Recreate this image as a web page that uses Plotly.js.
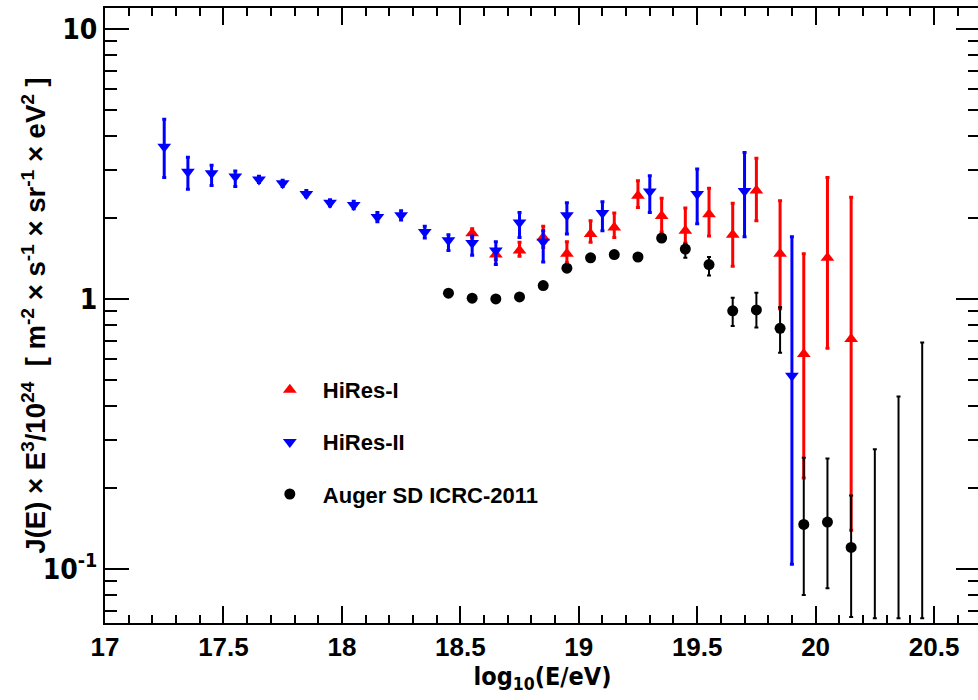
<!DOCTYPE html>
<html>
<head>
<meta charset="utf-8">
<script src="https://cdn.plot.ly/plotly-3.0.1.min.js"></script>
<style>
  html, body { margin: 0; padding: 0; overflow: hidden; background: #fff; }
  #chart { width: 982px; height: 700px; }
</style>
</head>
<body>
<div id="chart"></div>
<script>
// HiRes-I monocular spectrum: log10(E/eV), flux, upper and lower error ends
const hires1X  = [18.55, 18.65, 18.75, 18.85, 18.95, 19.05, 19.15, 19.25, 19.35, 19.45, 19.55, 19.65, 19.75, 19.85, 19.95, 20.05, 20.15];
const hires1Y  = [1.75, 1.46, 1.51, 1.69, 1.47, 1.74, 1.84, 2.41, 2.03, 1.79, 2.06, 1.73, 2.52, 1.47, 0.625, 1.42, 0.711];
const hires1Hi = [1.82, 1.52, 1.62, 1.86, 1.63, 1.95, 2.08, 2.74, 2.36, 2.17, 2.57, 2.26, 3.32, 2.31, 1.47, 2.82, 2.38];
const hires1Lo = [1.68, 1.40, 1.44, 1.55, 1.36, 1.62, 1.69, 2.18, 1.77, 1.61, 1.71, 1.32, 1.95, 0.92, 0.217, 0.656, 0.139];

// HiRes-II monocular spectrum
const hires2X  = [17.25, 17.35, 17.45, 17.55, 17.65, 17.75, 17.85, 17.95, 18.05, 18.15, 18.25, 18.35, 18.45, 18.55, 18.65, 18.75, 18.85, 18.95, 19.1, 19.3, 19.5, 19.7, 19.9];
const hires2Y  = [3.66, 2.96, 2.92, 2.84, 2.77, 2.68, 2.45, 2.27, 2.23, 2.01, 2.04, 1.77, 1.65, 1.61, 1.51, 1.92, 1.63, 2.04, 2.08, 2.50, 2.45, 2.51, 0.519];
const hires2Hi = [4.63, 3.35, 3.13, 2.98, 2.85, 2.75, 2.52, 2.33, 2.30, 2.09, 2.12, 1.86, 1.73, 1.71, 1.63, 2.09, 1.79, 2.27, 2.29, 2.86, 3.03, 3.49, 1.70];
const hires2Lo = [2.82, 2.55, 2.63, 2.61, 2.70, 2.61, 2.39, 2.21, 2.16, 1.93, 1.96, 1.68, 1.51, 1.45, 1.34, 1.69, 1.37, 1.74, 1.79, 2.09, 1.90, 1.70, 0.104];

// Auger surface detector spectrum (ICRC 2011)
const augerX  = [18.45, 18.55, 18.65, 18.75, 18.85, 18.95, 19.05, 19.15, 19.25, 19.35, 19.45, 19.55, 19.65, 19.75, 19.85, 19.95, 20.05, 20.15];
const augerY  = [1.05, 1.006, 1.00, 1.017, 1.12, 1.30, 1.42, 1.46, 1.43, 1.68, 1.53, 1.34, 0.903, 0.91, 0.778, 0.146, 0.149, 0.120];
const augerHi = [1.07, 1.02, 1.015, 1.035, 1.14, 1.33, 1.45, 1.49, 1.46, 1.72, 1.60, 1.43, 1.01, 1.055, 0.931, 0.258, 0.256, 0.187];
const augerLo = [1.03, 0.99, 0.985, 1.00, 1.10, 1.27, 1.39, 1.43, 1.40, 1.64, 1.42, 1.22, 0.794, 0.784, 0.632, 0.080, 0.0846, 0.0662];

// Auger bins with no events: upper limits only
const augerLimX   = [20.25, 20.35, 20.45];
const augerLimTop = [0.277, 0.435, 0.689];
const augerLimBot = [0.0656, 0.0656, 0.0656];

const yTickVals = [0.1, 1, 10];
const yTickText = ['10<sup>-1</sup>', '1', '10'];

const plus  = (hi, y) => hi.map((v, i) => v - y[i]);
const minus = (lo, y) => lo.map((v, i) => y[i] - v);

// minor ticks at 2..9 of every decade
const yMinor = [];
[0.01, 0.1, 1, 10].forEach(d => { for (let k = 2; k <= 9; k++) yMinor.push(+(k * d).toPrecision(3)); });

const sansFont = '"Liberation Sans", Arial, Helvetica, sans-serif';
const narrowFont = '"DejaVu Sans Condensed", "Liberation Sans Narrow", sans-serif';

const traces = [
  {
    name: 'HiRes-I', legendgroup: 'g1',
    x: hires1X, y: hires1Y, type: 'scatter', mode: 'markers',
    marker: { symbol: 'triangle-up', size: 12, color: '#ff0000' },
    error_y: { type: 'data', symmetric: false, array: plus(hires1Hi, hires1Y), arrayminus: minus(hires1Lo, hires1Y),
               color: '#ff0000', thickness: 3, width: 2 }
  },
  {
    name: 'HiRes-II', legendgroup: 'g2',
    x: hires2X, y: hires2Y, type: 'scatter', mode: 'markers',
    marker: { symbol: 'triangle-down', size: 12, color: '#0000ff' },
    error_y: { type: 'data', symmetric: false, array: plus(hires2Hi, hires2Y), arrayminus: minus(hires2Lo, hires2Y),
               color: '#0000ff', thickness: 3, width: 2 }
  },
  {
    name: 'Auger SD ICRC-2011', legendgroup: 'g3',
    x: augerX, y: augerY, type: 'scatter', mode: 'markers',
    marker: { symbol: 'circle', size: 11, color: '#000000' },
    error_y: { type: 'data', symmetric: false, array: plus(augerHi, augerY), arrayminus: minus(augerLo, augerY),
               color: '#000000', thickness: 2, width: 2 }
  },
  {
    name: 'Auger limits', showlegend: false,
    x: augerLimX, y: augerLimBot, type: 'scatter', mode: 'markers',
    marker: { size: 1, color: 'rgba(0,0,0,0)' },
    error_y: { type: 'data', symmetric: false, array: plus(augerLimTop, augerLimBot), arrayminus: augerLimX.map(() => 0),
               color: '#000000', thickness: 2, width: 2 },
    hoverinfo: 'skip'
  }
];

const layout = {
  width: 982, height: 700,
  margin: { l: 104.5, r: 2, t: 8, b: 77 },
  paper_bgcolor: '#ffffff', plot_bgcolor: '#ffffff',
  showlegend: true,
  legend: {
    x: 0.1735, y: 0.413, xanchor: 'left', yanchor: 'top',
    bgcolor: 'rgba(0,0,0,0)', borderwidth: 0,
    font: { family: sansFont, size: 22, weight: 'bold', color: '#000' },
    tracegroupgap: 20.5, itemwidth: 56, traceorder: 'grouped'
  },
  xaxis: {
    range: [17, 20.694], showgrid: false, zeroline: false,
    showline: true, linewidth: 2, linecolor: '#000', mirror: 'allticks',
    tickmode: 'linear', tick0: 17, dtick: 0.5,
    ticks: 'inside', ticklen: 17, tickwidth: 2, tickcolor: '#000',
    minor: { dtick: 0.1, tick0: 17, ticks: 'inside', ticklen: 8, tickwidth: 2, tickcolor: '#000', showgrid: false },
    tickfont: { family: sansFont, size: 26, weight: 'bold', color: '#000' },
    title: { text: 'log<sub>10</sub>(E/eV)', standoff: 6,
             font: { family: narrowFont, size: 25, weight: 'bold', color: '#000' } }
  },
  yaxis: {
    type: 'log', range: [-1.201, 1.078], showgrid: false, zeroline: false,
    showline: true, linewidth: 2, linecolor: '#000', mirror: 'allticks',
    tickmode: 'array', tickvals: yTickVals, ticktext: yTickText,
    ticks: 'inside', ticklen: 24, tickwidth: 2, tickcolor: '#000',
    minor: { tickmode: 'array', tickvals: yMinor, ticks: 'inside', ticklen: 12, tickwidth: 2, tickcolor: '#000', showgrid: false },
    tickfont: { family: narrowFont, size: 28, weight: 'bold', color: '#000' }
  },
  annotations: [{
    text: 'J(E) × E<sup>3</sup>/10<sup>24</sup>  [ m<sup>-2</sup> × s<sup>-1</sup> × sr<sup>-1</sup> × eV<sup>2</sup> ]',
    xref: 'paper', yref: 'paper', x: -0.081, y: 0.5, xanchor: 'center', yanchor: 'middle',
    textangle: -90, showarrow: false,
    font: { family: sansFont, size: 27.5, weight: 'bold', color: '#000' }
  }]
};

Plotly.newPlot('chart', traces, layout, { displayModeBar: false, staticPlot: true });
</script>
</body>
</html>
